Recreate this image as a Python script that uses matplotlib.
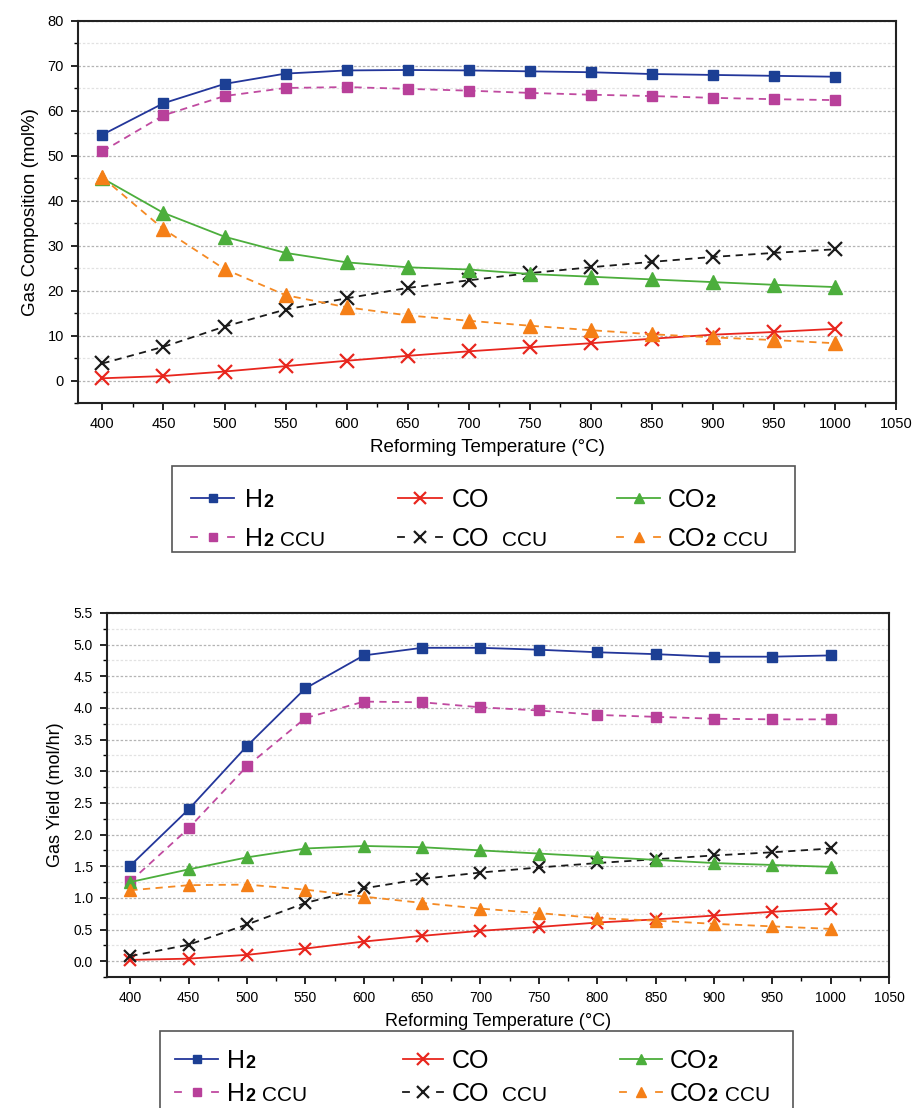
import matplotlib
matplotlib.use("Agg")
import matplotlib.pyplot as plt
from matplotlib.lines import Line2D
from matplotlib.patches import Rectangle
from matplotlib.ticker import MultipleLocator

plt.rcParams["font.family"] = ["Liberation Sans", "DejaVu Sans"]

# Reforming temperatures (°C)
temperature = [400, 450, 500, 550, 600, 650, 700, 750, 800, 850, 900, 950, 1000]

# Gas composition (mol%)
comp_h2 = [54.7, 61.7, 66.0, 68.3, 69.0, 69.1, 69.0, 68.8, 68.6, 68.2, 68.0, 67.8, 67.6]
comp_h2_ccu = [51.0, 59.0, 63.3, 65.1, 65.3, 64.9, 64.5, 64.0, 63.6, 63.3, 62.9, 62.6, 62.4]
comp_co = [0.5, 1.0, 2.0, 3.2, 4.4, 5.5, 6.5, 7.4, 8.3, 9.3, 10.2, 10.8, 11.5]
comp_co_ccu = [3.8, 7.5, 12.0, 15.8, 18.3, 20.6, 22.3, 23.9, 25.2, 26.4, 27.5, 28.4, 29.2]
comp_co2 = [45.0, 37.3, 32.0, 28.4, 26.3, 25.2, 24.7, 23.7, 23.1, 22.5, 21.9, 21.3, 20.8]
comp_co2_ccu = [45.2, 33.7, 24.8, 19.0, 16.3, 14.5, 13.3, 12.2, 11.2, 10.3, 9.6, 9.0, 8.3]

# Gas yield (mol/hr)
yield_h2 = [1.51, 2.40, 3.40, 4.31, 4.83, 4.95, 4.95, 4.92, 4.88, 4.85, 4.81, 4.81, 4.83]
yield_h2_ccu = [1.26, 2.10, 3.08, 3.84, 4.10, 4.09, 4.01, 3.96, 3.89, 3.86, 3.83, 3.82, 3.82]
yield_co = [0.02, 0.04, 0.10, 0.20, 0.31, 0.40, 0.48, 0.54, 0.61, 0.66, 0.72, 0.78, 0.83]
yield_co_ccu = [0.08, 0.26, 0.58, 0.92, 1.15, 1.30, 1.40, 1.48, 1.55, 1.61, 1.67, 1.72, 1.78]
yield_co2 = [1.25, 1.45, 1.64, 1.78, 1.82, 1.80, 1.75, 1.70, 1.65, 1.60, 1.55, 1.52, 1.49]
yield_co2_ccu = [1.12, 1.20, 1.21, 1.13, 1.02, 0.92, 0.83, 0.76, 0.68, 0.64, 0.59, 0.55, 0.51]

# Legend names: (formula, subscript, suffix)
series_names = [("H", "2", ""), ("H", "2", "CCU"), ("CO", "", ""),
                ("CO", "", "CCU"), ("CO", "2", ""), ("CO", "2", "CCU")]

STYLES = [
    dict(color="#23369a", marker="s", dashed=False, mc="#1c3f94", ms=7.5, mew=1.0),
    dict(color="#c04aa0", marker="s", dashed=True, mc="#b8409a", ms=7.5, mew=1.0),
    dict(color="#e8261e", marker="x", dashed=False, mc="#e8261e", ms=10, mew=1.6),
    dict(color="#1a1a1a", marker="x", dashed=True, mc="#1a1a1a", ms=10, mew=1.6),
    dict(color="#4cae3c", marker="^", dashed=False, mc="#4cae3c", ms=9.5, mew=1.0),
    dict(color="#f58a24", marker="^", dashed=True, mc="#f57f17", ms=9.5, mew=1.0),
]
DASH = (0, (4, 3))

W, H = 914, 1108
fig = plt.figure(figsize=(W / 100, H / 100), dpi=100)


def fx(px):
    return px / W


def fy(py):
    return 1 - py / H


def draw_panel(rect, series, ylim, ymajor, yminor, ylabel, tick_fs, label_fs, ylabelpad, msf):
    ax = fig.add_axes(rect)
    for values, st in zip(series, STYLES):
        ax.plot(temperature, values, color=st["color"], ls=DASH if st["dashed"] else "-", lw=1.3,
                marker=st["marker"], ms=st["ms"] * msf, mfc=st["mc"], mec=st["mc"], mew=st["mew"])
    ax.set_xlim(380, 1050)
    ax.set_ylim(*ylim)
    ax.xaxis.set_major_locator(MultipleLocator(50))
    ax.xaxis.set_minor_locator(MultipleLocator(25))
    ax.yaxis.set_major_locator(MultipleLocator(ymajor))
    ax.yaxis.set_minor_locator(MultipleLocator(yminor))
    ax.grid(True, which="major", axis="y", color="#b4b4b4", ls=(0, (2, 1.5)), lw=0.9)
    ax.grid(True, which="minor", axis="y", color="#e2e2e2", ls=(0, (2, 1.5)), lw=0.9)
    ax.set_axisbelow(True)
    ax.tick_params(which="major", direction="out", length=5, width=1.2, labelsize=tick_fs, pad=5)
    ax.tick_params(which="minor", direction="out", length=3, width=1.0)
    for sp in ax.spines.values():
        sp.set_linewidth(1.5)
        sp.set_color("#222222")
    ax.set_xlabel("Reforming Temperature (°C)", fontsize=label_fs, labelpad=6)
    ax.set_ylabel(ylabel, fontsize=label_fs, labelpad=ylabelpad)
    return ax


renderer = fig.canvas.get_renderer()


def rich_label(x, baseline, name):
    formula, sub, suffix = name
    t = fig.text(fx(x), fy(baseline), formula, fontsize=18, va="baseline", ha="left")
    right = t.get_window_extent(renderer).x1
    if sub:
        t = fig.text(fx(right), fy(baseline), sub, fontsize=13, fontweight="bold",
                     va="baseline", ha="left")
        right = t.get_window_extent(renderer).x1
    if suffix:
        gap = 7 if sub else 12
        fig.text(fx(right + gap), fy(baseline), suffix, fontsize=15,
                 va="baseline", ha="left")


def draw_legend(box, rows, cols, text_x):
    (x0, y0), (x1, y1) = box
    fig.patches.append(Rectangle((fx(x0), fy(y1)), fx(x1) - fx(x0), fy(y0) - fy(y1),
                                 transform=fig.transFigure, facecolor="white",
                                 edgecolor="#555555", lw=1.2, zorder=1))
    for i, (st, name) in enumerate(zip(STYLES, series_names)):
        c, r = i // 2, i % 2
        ha, hb = cols[c]
        yc = rows[r]
        if st["dashed"]:
            segs = [(ha, ha + 6), (hb - 6, hb)]
        else:
            segs = [(ha, hb)]
        for a, b in segs:
            fig.lines.append(Line2D([fx(a), fx(b)], [fy(yc), fy(yc)], transform=fig.transFigure,
                                    color=st["color"], lw=1.3, zorder=2))
        xm = (ha + hb) / 2
        fig.lines.append(Line2D([fx(xm)], [fy(yc)], transform=fig.transFigure, ls="none",
                                marker=st["marker"], ms=st["ms"] * 0.8, mfc=st["mc"],
                                mec=st["mc"], mew=st["mew"], zorder=3))
        rich_label(text_x[c], yc + 9, name)


top_series = [comp_h2, comp_h2_ccu, comp_co, comp_co_ccu, comp_co2, comp_co2_ccu]
bottom_series = [yield_h2, yield_h2_ccu, yield_co, yield_co_ccu, yield_co2, yield_co2_ccu]

draw_panel([fx(78), fy(403), (896 - 78) / W, (403 - 21) / H], top_series,
           (-5, 80), 10, 5, "Gas Composition (mol%)", 10.5, 13.5, 6, 1.0)
draw_legend(((172, 466), (795, 552)), (498, 537),
            [(191, 234), (398, 442), (617, 660)], (245, 452, 668))

draw_panel([fx(107), fy(977), (889 - 107) / W, (977 - 613) / H], bottom_series,
           (-0.25, 5.5), 0.5, 0.25, "Gas Yield (mol/hr)", 10, 13, 7, 0.92)
draw_legend(((160, 1031), (793, 1130)), (1059, 1092),
            [(175, 218), (403, 443), (620, 662)], (227, 452, 670))

fig.savefig("out.png", dpi=100)
